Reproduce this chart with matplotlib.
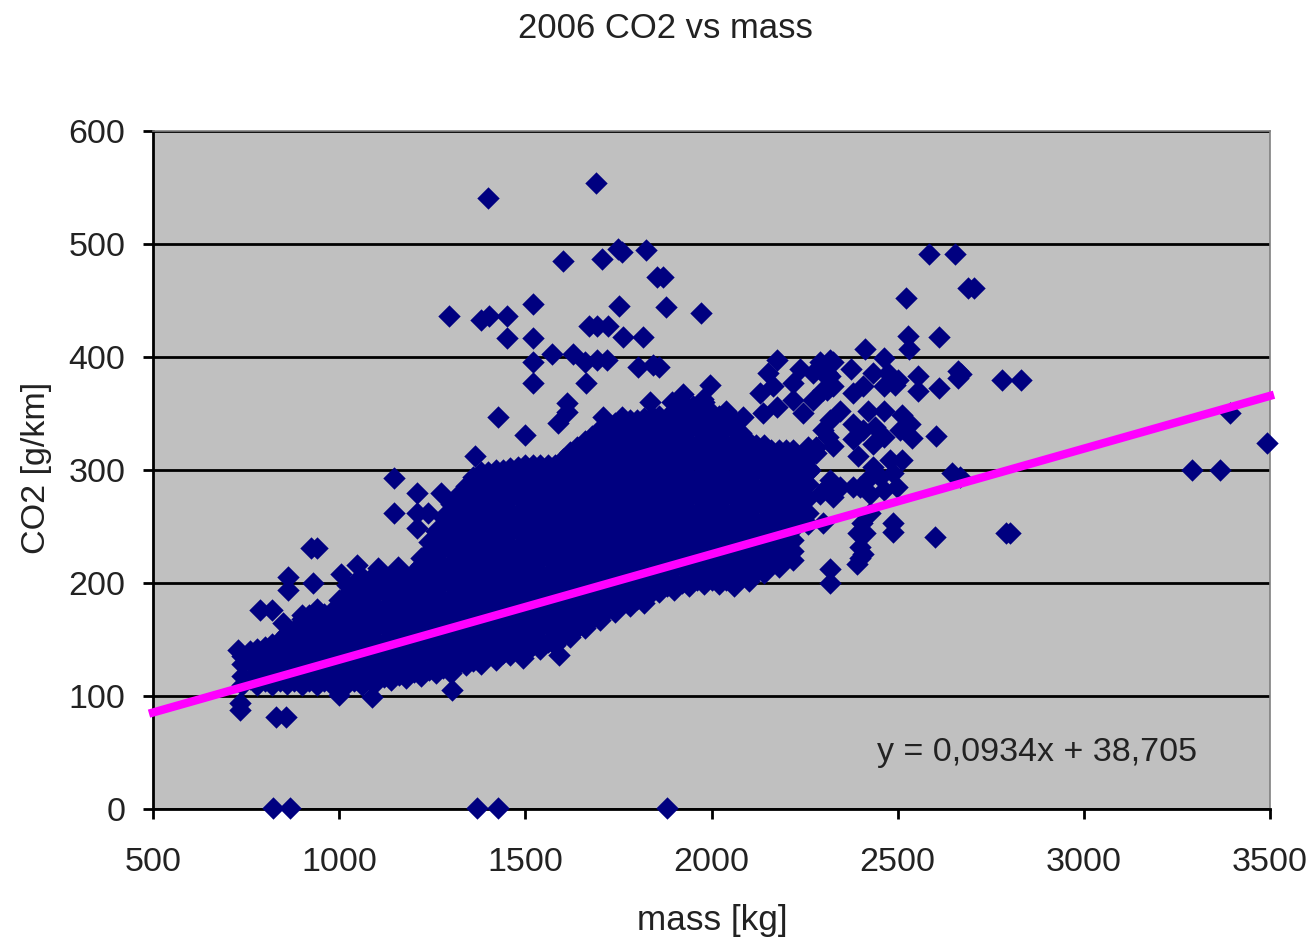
import matplotlib
matplotlib.use("Agg")
import matplotlib.pyplot as plt

plt.rcParams['font.family'] = ['Liberation Sans', 'DejaVu Sans']

# dense body of the cloud, read column by column
dense_mass = [740, 780, 820, 860, 900, 940, 980, 1020, 1060, 1100, 1140, 1180, 1220,
              1260, 1300, 1340, 1380, 1420, 1460, 1500, 1540, 1580, 1620, 1660, 1700,
              1740, 1780, 1820, 1860, 1900, 1940, 1980, 2020, 2060, 2100, 2140, 2180,
              2220, 2260]
dense_co2 = [
    [110, 118, 128, 135],
    [110, 115, 125, 135, 142],
    [110, 118, 128, 138, 146],
    [111, 120, 130, 140, 150, 156],
    [110, 118, 128, 138, 148, 158, 168, 172],
    [110, 120, 130, 140, 150, 160, 170, 177],
    [110, 118, 128, 138, 148, 158, 168, 175],
    [111, 120, 130, 140, 150, 160, 170, 180, 190, 198],
    [110, 118, 128, 138, 148, 158, 168, 178, 188, 198, 205],
    [112, 120, 130, 140, 150, 160, 170, 180, 190, 200, 204],
    [114, 122, 132, 142, 152, 162, 172, 182, 192, 202, 206],
    [116, 125, 135, 145, 155, 165, 175, 185, 195, 205],
    [118, 126, 136, 146, 156, 166, 176, 186, 196, 206, 216, 222],
    [120, 130, 140, 150, 160, 170, 180, 190, 200, 210, 220, 230, 240, 246],
    [120, 128, 138, 148, 158, 168, 178, 188, 198, 208, 218, 228, 238, 248, 258, 270],
    [127, 135, 145, 155, 165, 175, 185, 195, 205, 215, 225, 235, 245, 255, 265, 275, 286],
    [128, 136, 146, 156, 166, 176, 186, 196, 206, 216, 226, 236, 246, 256, 266, 276, 286, 298],
    [132, 140, 150, 160, 170, 180, 190, 200, 210, 220, 230, 240, 250, 260, 270, 280, 290, 300],
    [136, 144, 154, 164, 174, 184, 194, 204, 214, 224, 234, 244, 254, 264, 274, 284, 294, 302],
    [138, 146, 156, 166, 176, 186, 196, 206, 216, 226, 236, 246, 256, 266, 276, 286, 296, 304],
    [142, 150, 160, 170, 180, 190, 200, 210, 220, 230, 240, 250, 260, 270, 280, 290, 300, 304],
    [145, 153, 163, 173, 183, 193, 203, 213, 223, 233, 243, 253, 263, 273, 283, 293, 304],
    [152, 160, 170, 180, 190, 200, 210, 220, 230, 240, 250, 260, 270, 280, 290, 300, 310, 316],
    [160, 168, 178, 188, 198, 208, 218, 228, 238, 248, 258, 268, 278, 288, 298, 308, 318, 326],
    [167, 175, 185, 195, 205, 215, 225, 235, 245, 255, 265, 275, 285, 295, 305, 315, 325, 336],
    [174, 182, 192, 202, 212, 222, 232, 242, 252, 262, 272, 282, 292, 302, 312, 322, 332, 342],
    [180, 188, 198, 208, 218, 228, 238, 248, 258, 268, 278, 288, 298, 308, 318, 328, 338, 344],
    [182, 190, 200, 210, 220, 230, 240, 250, 260, 270, 280, 290, 300, 310, 320, 330, 340, 346],
    [192, 200, 210, 220, 230, 240, 250, 260, 270, 280, 290, 300, 310, 320, 330, 340, 348],
    [194, 202, 212, 222, 232, 242, 252, 262, 272, 282, 292, 302, 312, 322, 332, 342, 350],
    [197, 205, 215, 225, 235, 245, 255, 265, 275, 285, 295, 305, 315, 325, 335, 345, 354],
    [199, 207, 217, 227, 237, 247, 257, 267, 277, 287, 297, 307, 317, 327, 337, 347, 360],
    [199, 207, 217, 227, 237, 247, 257, 267, 277, 287, 297, 307, 317, 327, 340, 348],
    [197, 205, 215, 225, 235, 245, 255, 265, 275, 285, 295, 305, 315, 325, 335, 344],
    [202, 210, 220, 230, 240, 250, 260, 270, 280, 290, 300, 310, 320, 325],
    [209, 217, 227, 237, 247, 257, 267, 277, 287, 297, 307, 317, 322],
    [214, 222, 232, 242, 252, 262, 272, 282, 292, 302, 312, 318],
    [220, 228, 238, 248, 258, 268, 278, 288, 298, 308, 318],
    [252, 262, 275, 288, 298, 302],
]

# in-between columns, the cloud has no gaps there
fill_mass = [760, 800, 840, 880, 920, 960, 1000, 1040, 1080, 1120, 1160, 1200, 1240, 1280,
             1320, 1360, 1400, 1440, 1480, 1520, 1560, 1600, 1640, 1680, 1720, 1760, 1800,
             1840, 1880, 1920, 1960, 2000, 2040, 2080, 2120, 2160, 2200, 2240]
fill_co2 = [
    [115, 130, 140],
    [113, 128, 143],
    [113, 128, 143, 150],
    [113, 128, 143, 158],
    [113, 128, 143, 158, 172],
    [113, 128, 143, 158, 173],
    [113, 128, 143, 158, 173, 185],
    [113, 128, 143, 158, 173, 188, 200],
    [115, 130, 145, 160, 175, 190, 203],
    [117, 132, 147, 162, 177, 192, 204],
    [119, 134, 149, 164, 179, 194, 204],
    [121, 136, 151, 166, 181, 196, 210],
    [123, 138, 153, 168, 183, 198, 213, 228, 236],
    [125, 140, 155, 170, 185, 200, 215, 230, 245, 258],
    [128, 143, 158, 173, 188, 203, 218, 233, 248, 263, 278],
    [131, 146, 161, 176, 191, 206, 221, 236, 251, 266, 281, 294],
    [135, 150, 165, 180, 195, 210, 225, 240, 255, 270, 285, 298],
    [138, 153, 168, 183, 198, 213, 228, 243, 258, 273, 288, 300],
    [141, 156, 171, 186, 201, 216, 231, 246, 261, 276, 291, 303],
    [145, 160, 175, 190, 205, 220, 235, 250, 265, 280, 295, 304],
    [148, 163, 178, 193, 208, 223, 238, 253, 268, 283, 298, 304],
    [153, 168, 183, 198, 213, 228, 243, 258, 273, 288, 303, 310],
    [160, 175, 190, 205, 220, 235, 250, 265, 280, 295, 310, 320],
    [168, 183, 198, 213, 228, 243, 258, 273, 288, 303, 318, 330],
    [176, 191, 206, 221, 236, 251, 266, 281, 296, 311, 326, 338],
    [182, 197, 212, 227, 242, 257, 272, 287, 302, 317, 332, 342],
    [186, 201, 216, 231, 246, 261, 276, 291, 306, 321, 336, 344],
    [192, 207, 222, 237, 252, 267, 282, 297, 312, 327, 342, 348],
    [197, 212, 227, 242, 257, 272, 287, 302, 317, 332, 347],
    [200, 215, 230, 245, 260, 275, 290, 305, 320, 335, 350],
    [203, 218, 233, 248, 263, 278, 293, 308, 323, 338, 353],
    [203, 218, 233, 248, 263, 278, 293, 308, 323, 338, 350],
    [203, 218, 233, 248, 263, 278, 293, 308, 323, 338, 346],
    [205, 220, 235, 250, 265, 280, 295, 310, 325, 333],
    [210, 225, 240, 255, 270, 285, 300, 315, 322],
    [216, 231, 246, 261, 276, 291, 306, 318],
    [222, 237, 252, 267, 282, 297, 312, 318],
    [255, 270, 285, 300, 312],
]

# sparse points around the cloud
loose_mass = [1400, 1690, 1750, 1760, 1824, 1601, 1706, 1853, 1870, 1521, 1752, 1878, 1972,
              1295, 1381, 1402, 1451, 1451, 1521, 1671, 1692, 1722, 1762, 1816, 1521, 1572,
              1628, 1660, 1692, 1719, 1803, 1843, 1859, 1521, 1663, 1612,
              1427, 1588, 1499, 1365, 1147, 1209, 1274, 1147, 1209, 1239, 1209, 1271, 925,
              940, 863, 930, 863, 1005, 1048, 1105, 1158, 787, 820, 850, 728, 734, 734, 830,
              857, 822, 868, 1370, 1427, 1880, 1303, 1088, 1000, 1590, 1494,
              2585, 2654, 2690, 2705, 2522, 2528, 2611, 2530, 2412, 2662, 2662, 2670, 2780, 2831,
              2611, 2555, 2555, 2603, 2646, 2667, 3291, 3366, 3492, 3393, 2790, 2803, 2600, 2488,
              2488, 1996, 1924, 1893, 1835, 2040, 2085, 1759, 1709, 1611, 1978, 1951]
loose_co2 = [541, 554, 496, 493, 495, 485, 487, 471, 471, 447, 445, 444, 439,
             436, 433, 436, 436, 417, 417, 427, 427, 427, 418, 418, 396, 403,
             403, 396, 397, 397, 391, 393, 391, 377, 377, 359,
             347, 342, 331, 312, 293, 280, 280, 262, 262, 262, 249, 249, 231,
             231, 205, 200, 194, 208, 216, 213, 214, 176, 176, 165, 141, 94, 88, 81,
             81, 1, 1, 1, 1, 1, 105, 99, 101, 136, 134,
             491, 491, 461, 461, 452, 419, 418, 407, 407, 388, 381, 385, 380, 380,
             373, 383, 370, 330, 297, 294, 300, 300, 324, 350, 244, 244, 241, 253,
             245, 375, 367, 360, 360, 352, 347, 347, 347, 351, 363, 357]

# patchy clusters to the right of the main cloud
right_mass = [2175, 2152, 2130, 2166, 2237, 2291, 2327, 2273, 2220, 2309, 2273, 2220, 2175,
              2139, 2246, 2309, 2318, 2300, 2318, 2376, 2435, 2462, 2475, 2502, 2462, 2381,
              2408, 2327, 2300, 2493,
              2345, 2318, 2300, 2327, 2314, 2381, 2421, 2462, 2511, 2533, 2506, 2538, 2408,
              2439, 2435, 2381, 2462, 2394, 2479, 2511, 2435,
              2309, 2345, 2381, 2318, 2426, 2453, 2488, 2497, 2426, 2462, 2399, 2327, 2291,
              2403, 2394, 2412, 2399, 2408, 2390, 2399, 2318, 2318, 2300, 2426,
              2240, 2260, 2260, 2280, 2282, 2264]
right_co2 = [397, 386, 368, 374, 389, 396, 396, 386, 377, 386, 362, 362, 356,
             350, 350, 371, 397, 386, 383, 389, 386, 399, 386, 380, 374, 368,
             374, 374, 371, 375,
             352, 344, 335, 321, 329, 341, 352, 352, 349, 341, 335, 328, 335,
             338, 323, 327, 329, 312, 309, 309, 303,
             285, 285, 285, 291, 294, 294, 297, 285, 279, 282, 285, 276, 279,
             253, 244, 244, 232, 226, 217, 222, 212, 200, 253, 262,
             290, 310, 320, 320, 315, 300]

trend_mass = [500, 3500]
trend_co2 = [85.4, 365.6]

x_ticks = [500, 1000, 1500, 2000, 2500, 3000, 3500]
y_ticks = [0, 100, 200, 300, 400, 500, 600]

W, H = 1308, 938
fig = plt.figure(figsize=(W / 100, H / 100), dpi=100, facecolor='white')
ax = fig.add_axes([153 / W, (H - 809) / H, 1117 / W, 678 / H], facecolor='#C0C0C0')

ax.set_xlim(500, 3500)
ax.set_ylim(0, 600)
ax.set_xticks(x_ticks)
ax.set_yticks(y_ticks)
ax.tick_params(length=7, width=2, labelsize=24.5, color='black', labelcolor='#222222')
ax.tick_params(axis='x', pad=20)
ax.tick_params(axis='y', pad=13)
ax.grid(True, axis='y', color='black', linewidth=2)
ax.set_axisbelow(True)

for side in ['left', 'bottom']:
    ax.spines[side].set_linewidth(2)
    ax.spines[side].set_color('black')
for side in ['right', 'top']:
    ax.spines[side].set_linewidth(1.2)
    ax.spines[side].set_color('#808080')

marker_opts = dict(marker='D', s=130, color='#000080', linewidths=0, clip_on=False, zorder=3)
for m, values in zip(dense_mass, dense_co2):
    ax.scatter([m] * len(values), values, **marker_opts)
for m, values in zip(fill_mass, fill_co2):
    ax.scatter([m] * len(values), values, **marker_opts)
ax.scatter(loose_mass, loose_co2, **marker_opts)
ax.scatter(right_mass, right_co2, **marker_opts)

ax.plot(trend_mass, trend_co2, color='#FF00FF', linewidth=6, clip_on=False,
        solid_capstyle='projecting', zorder=4)

fig.text(665 / W, 1 - 29 / H, '2006 CO2 vs mass', fontsize=24.9, color='#222222',
         ha='center', va='center')
fig.text(712 / W, 1 - 920 / H, 'mass [kg]', fontsize=25.3, color='#222222',
         ha='center', va='center')
fig.text(37 / W, 1 - 468 / H, 'CO2 [g/km]', fontsize=24.5, color='#222222',
         rotation=90, ha='center', va='center')
fig.text(1037 / W, 1 - 752 / H, 'y = 0,0934x + 38,705', fontsize=24.5, color='#222222',
         ha='center', va='center', zorder=5)

fig.savefig('out.png', dpi=100)
